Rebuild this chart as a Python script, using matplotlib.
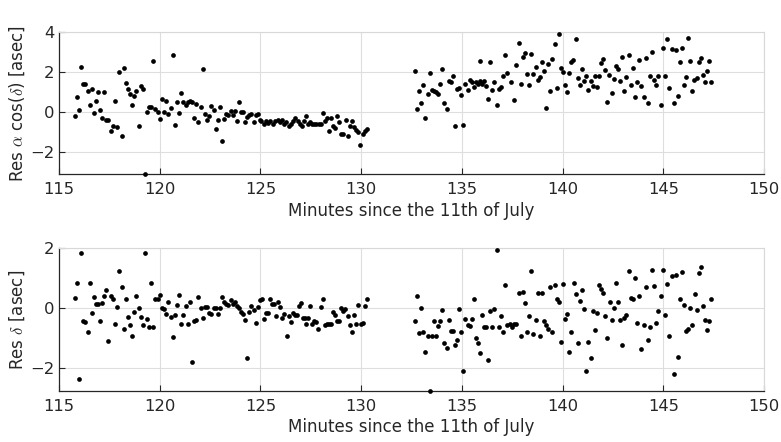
import matplotlib
matplotlib.use("Agg")
import matplotlib.pyplot as plt

plt.rcParams["font.family"] = "DejaVu Sans"
plt.rcParams["mathtext.fontset"] = "cm"

# --- residuals in right ascension (top panel) --------------------------------
t_ra = [115.78, 115.88, 116.0, 116.1, 116.2, 116.3, 116.42, 116.52, 116.62, 116.73,
        116.83, 116.95, 117.05, 117.15, 117.25, 117.35, 117.45, 117.57, 117.68, 117.8,
        117.9, 118.0, 118.12, 118.22, 118.32, 118.42, 118.53, 118.63, 118.73, 118.83,
        118.95, 119.05, 119.17, 119.27, 119.37, 119.48, 119.58, 119.68, 119.78, 119.9,
        120.02, 120.12, 120.23, 120.33, 120.43, 120.55, 120.65, 120.75, 120.87, 120.97,
        121.08, 121.18, 121.28, 121.4, 121.5, 121.6, 121.7, 121.82, 121.92, 122.03,
        122.13, 122.23, 122.35, 122.45, 122.55, 122.67, 122.77, 122.88, 122.98, 123.08,
        123.2, 123.3, 123.4, 123.52, 123.62, 123.72, 123.83, 123.93, 124.03, 124.13,
        124.25, 124.35, 124.45, 124.55, 124.67, 124.77, 124.87, 124.98,
        125.03, 125.16, 125.28, 125.39, 125.49, 125.63, 125.72, 125.86, 125.95, 126.07,
        126.18, 126.28, 126.4, 126.51, 126.61, 126.73, 126.84, 126.94, 127.04, 127.14,
        127.25, 127.37, 127.47, 127.57, 127.66, 127.78, 127.89, 127.99, 128.09, 128.19,
        128.29, 128.39, 128.49, 128.59, 128.7, 128.82, 128.91, 129.01, 129.11, 129.23,
        129.33, 129.44, 129.54, 129.64, 129.75, 129.85, 129.95, 130.08, 130.18, 130.28,
        132.66, 132.76, 132.88, 132.98, 133.08, 133.19, 133.29, 133.4, 133.5, 133.6,
        133.7, 133.82, 133.91, 134.03, 134.13, 134.24, 134.34, 134.44, 134.54, 134.65,
        134.75, 134.85, 134.97, 135.07, 135.16, 135.28, 135.38, 135.48, 135.59, 135.69,
        135.79, 135.89, 135.89, 136.0, 136.1, 136.2, 136.3, 136.41, 136.51, 136.61,
        136.73, 136.83, 136.93, 137.04, 137.14, 137.24, 137.45, 137.58, 137.68, 137.81,
        137.91, 138.01, 138.13, 138.23, 138.34, 138.44, 138.54, 138.66, 138.76, 138.86,
        138.97, 139.07, 139.17, 139.29, 139.39, 139.49, 139.6, 139.7, 139.82, 139.92,
        140.02, 140.12, 140.23, 140.33, 140.43, 140.53, 140.66, 140.76, 140.86, 140.98,
        141.08, 141.18, 141.27, 141.39, 141.49, 141.59, 141.71, 141.8, 141.9, 142.0,
        142.12, 142.22, 142.32, 142.43, 142.53, 142.63, 142.73, 142.85, 142.95, 143.06,
        143.16, 143.28, 143.38, 143.49, 143.59, 143.71, 143.81, 143.91, 144.02, 144.12,
        144.24, 144.34, 144.44, 144.54, 144.65, 144.75, 144.87, 144.97, 145.07, 145.18,
        145.28, 145.4, 145.5, 145.6, 145.7, 145.81, 145.91, 146.01, 146.13, 146.23,
        146.34, 146.44, 146.54, 146.64, 146.75, 146.85, 146.97, 147.07, 147.17, 147.28,
        147.38]
res_ra = [-0.18, 0.73, 0.08, 2.25, 1.42, 1.42, 1.07, 0.35, 1.17, -0.07,
          0.53, 1.02, 0.12, -0.32, 1.02, -0.4, -0.4, -0.93, -0.68, 0.55,
          -0.77, 1.98, -1.22, 2.18, 1.43, 1.15, 0.88, 0.35, 0.78, 1.03,
          -0.7, 1.3, 1.13, -3.1, -0.02, 0.23, 0.23, 2.53, 0.15, 0.02,
          -0.33, 0.67, 0.02, 0.55, -0.08, 0.22, 2.85, -0.63, 0.48, -0.03,
          0.97, 0.5, 0.33, 0.5, 0.57, 0.52, -0.3, 0.4, -0.52, 0.23,
          2.13, -0.08, -0.38, -0.18, 0.32, 0.12, -0.87, -0.42, 0.25, -1.45,
          -0.37, -0.08, -0.13, 0.03, -0.13, 0.07, -0.47, 0.48, -0.02, -0.02,
          -0.48, -0.25, -0.13, -0.08, -0.52, -0.15, -0.12, -0.42,
          -0.47, -0.58, -0.47, -0.55, -0.47, -0.58, -0.45, -0.38, -0.52, -0.42,
          -0.6, -0.52, -0.68, -0.6, -0.45, -0.32, -0.47, -0.58, -0.72, -0.43,
          -0.22, -0.6, -0.52, -0.62, -0.58, -0.62, -0.62, -0.62, -0.05, -0.47,
          -0.3, -0.93, -0.3, -0.72, -0.82, -0.18, -0.52, -1.12, -1.12, -0.42,
          -1.22, -0.72, -0.45, -0.77, -0.88, -1.02, -1.63, -1.12, -0.97, -0.85,
          2.03, 0.15, 1.07, 0.43, 1.33, -0.3, 0.88, 1.93, 1.12, 1.03,
          0.98, 0.88, 1.42, 2.15, 0.47, 0.15, 1.55, 1.48, 1.78, -0.68,
          1.15, 1.22, 0.83, -0.65, 1.42, 1.08, 1.62, 1.5, 1.25, 1.52,
          1.42, 1.53, 2.57, 1.42, 1.53, 1.32, 0.65, 2.48, 1.12, 1.5,
          0.33, 1.15, 1.25, 1.82, 2.85, 1.95, 1.48, 0.62, 2.37, 3.45,
          1.38, 2.73, 2.95, 1.92, 1.35, 2.9, 1.92, 2.25, 1.62, 1.75,
          2.5, 2.03, 0.2, 2.4, 1.05, 2.67, 3.42, 1.2, 3.92, 2.2,
          1.98, 1.37, 0.98, 1.95, 2.52, 2.62, 3.67, 1.72, 1.37, 2.15,
          1.53, 1.78, 1.08, 1.57, 1.28, 1.82, 1.25, 1.82, 2.45, 2.67,
          2.1, 0.48, 1.87, 0.97, 1.65, 2.32, 2.17, 1.57, 2.73, 1.07,
          1.75, 2.87, 1.35, 2.22, 0.75, 1.48, 2.58, 1.32, 0.75, 2.68,
          0.43, 1.82, 3.02, 1.58, 1.37, 1.8, 0.35, 3.18, 1.82, 3.67,
          1.18, 3.15, 0.47, 3.1, 0.82, 2.52, 3.22, 1.33, 1.77, 3.7,
          2.55, 1.05, 1.58, 1.68, 2.5, 2.72, 1.87, 1.52, 2.03, 2.55,
          1.52]

# --- residuals in declination (bottom panel) ---------------------------------
t_dec = [115.78, 115.88, 116.0, 116.1, 116.2, 116.3, 116.42, 116.52, 116.62, 116.73,
         116.83, 116.95, 117.05, 117.15, 117.25, 117.35, 117.45, 117.57, 117.68, 117.8,
         117.9, 118.0, 118.12, 118.22, 118.32, 118.42, 118.53, 118.63, 118.73, 118.83,
         118.95, 119.05, 119.17, 119.27, 119.37, 119.48, 119.58, 119.68, 119.78, 119.9,
         120.02, 120.12, 120.23, 120.33, 120.43, 120.55, 120.65, 120.75, 120.87, 120.97,
         121.08, 121.18, 121.28, 121.4, 121.5, 121.6, 121.7, 121.82, 121.92, 122.03,
         122.13, 122.23, 122.35, 122.45, 122.55, 122.67, 122.77, 122.88, 122.98, 123.08,
         123.2, 123.3, 123.4, 123.52, 123.62, 123.72, 123.83, 123.93, 124.03, 124.13,
         124.25, 124.35, 124.45, 124.55, 124.67, 124.77, 124.87, 124.98,
         125.07, 125.16, 125.26, 125.36, 125.46, 125.56, 125.66, 125.79, 125.89, 125.99,
         126.09, 126.18, 126.32, 126.41, 126.51, 126.61, 126.71, 126.81, 126.91, 127.01,
         127.11, 127.2, 127.27, 127.37, 127.47, 127.57, 127.66, 127.76, 127.88, 127.98,
         128.09, 128.19, 128.29, 128.39, 128.5, 128.6, 128.7, 128.8, 128.9, 129.0,
         129.11, 129.21, 129.33, 129.42, 129.54, 129.64, 129.74, 129.85, 129.97, 130.07,
         130.18, 130.28,
         132.66, 132.76, 132.88, 132.98, 133.08, 133.19, 133.29, 133.4, 133.5, 133.6,
         133.7, 133.82, 133.91, 134.03, 134.13, 134.24, 134.34, 134.44, 134.54, 134.65,
         134.75, 134.87, 134.97, 135.07, 135.16, 135.28, 135.38, 135.48, 135.59, 135.69,
         135.79, 135.89, 136.0, 136.1, 136.2, 136.3, 136.41, 136.51, 136.61, 136.73,
         136.83, 136.92, 137.04, 137.14, 137.24, 137.38, 137.48, 137.58, 137.68, 137.81,
         137.91, 138.01, 138.13, 138.23, 138.34, 138.44, 138.54, 138.66, 138.76, 138.86,
         138.97, 139.07, 139.17, 139.29, 139.39, 139.49, 139.6, 139.7, 139.8, 139.92,
         140.02, 140.13, 140.23, 140.33, 140.43, 140.55, 140.65, 140.76, 140.86, 140.96,
         141.08, 141.18, 141.27, 141.39, 141.49, 141.61, 141.71, 141.8, 141.9, 142.02,
         142.12, 142.22, 142.33, 142.43, 142.53, 142.65, 142.75, 142.85, 142.96, 143.06,
         143.16, 143.28, 143.38, 143.48, 143.59, 143.69, 143.81, 143.91, 144.02, 144.12,
         144.22, 144.34, 144.44, 144.55, 144.65, 144.75, 144.87, 144.97, 145.07, 145.17,
         145.28, 145.4, 145.5, 145.6, 145.7, 145.81, 145.91, 146.03, 146.13, 146.23,
         146.32, 146.44, 146.56, 146.66, 146.75, 146.85, 146.97, 147.07, 147.17, 147.28,
         147.38]
res_dec = [0.33, 0.84, -2.36, 1.82, -0.42, -0.47, -0.8, 0.84, -0.16, 0.38,
           0.13, 0.13, -0.43, 0.16, 0.4, 0.61, -1.09, 0.42, 0.29, -0.54,
           0.03, 1.24, 0.72, -0.69, 0.3, -0.28, -0.56, -0.91, -0.13, 0.39,
           0.02, -0.29, -0.56, 1.82, -0.36, -0.64, 0.84, -0.62, 0.3, 0.3,
           0.44, 0.0, -0.03, -0.19, 0.2, -0.28, -0.97, -0.24, 0.11, 0.44,
           -0.54, -0.22, 0.09, -0.54, 0.2, -1.8, -0.42, -0.39, 0.37, 0.02,
           -0.31, 0.04, 0.04, -0.16, -0.2, 0.02, 0.02, -0.2, 0.02, 0.37,
           0.2, 0.13, 0.11, 0.27, 0.13, 0.2, 0.09, 0.02, -0.11, -0.18,
           -0.39, -1.67, -0.13, 0.07, -0.06, -0.49, 0.04, 0.27,
           0.31, -0.37, -0.16, -0.16, 0.29, 0.13, 0.13, -0.26, 0.22, 0.04,
           -0.31, -0.2, -0.91, -0.27, -0.46, -0.17, -0.22, -0.22, 0.07, 0.18,
           -0.33, -0.33, -0.53, -0.33, 0.09, -0.53, -0.41, -0.47, -0.7, 0.03,
           0.31, -0.56, -0.51, -0.51, -0.51, -0.13, -0.24, -0.44, -0.43, 0.02,
           -0.09, -0.02, -0.27, -0.56, -0.8, -0.22, -0.53, 0.11, -0.53, -0.48,
           0.06, 0.31,
           -0.41, 0.39, -0.82, 0.01, -0.8, -1.47, -0.91, -2.75, -0.91, -0.42,
           -0.91, -0.58, -0.42, -0.06, -1.16, -1.33, -0.39, -0.76, -0.76, -1.21,
           -1.04, -0.04, -0.8, -2.08, -0.36, -0.56, -0.6, -0.36, 0.31, -1.0,
           -1.16, -1.5, -0.24, -0.63, -0.63, -1.71, -0.08, -0.63, -0.04, 1.92,
           -0.62, -0.27, -0.78, 0.78, -0.56, -0.53, -0.64, -0.53, -0.51, 0.49,
           -0.91, 0.53, 0.16, -0.78, -0.27, 1.23, -0.86, -0.38, 0.51, -0.91,
           0.51, -0.42, -0.56, -0.69, 0.69, -0.8, 0.78, 0.31, 0.22, -1.12,
           0.82, -0.36, -0.19, -1.44, -0.8, 0.84, 0.46, -1.17, 0.24, 0.6,
           -0.04, -2.09, -1.11, -1.64, -0.09, -0.73, -0.16, 0.76, 0.64, 0.51,
           -0.27, -0.98, 0.2, -0.38, 0.02, 0.84, 0.2, -0.4, -1.22, -0.33,
           -0.24, 1.24, 0.33, 0.31, 1.0, -0.49, 0.42, -1.36, -0.56, 0.69,
           -1.07, -0.62, 1.27, 0.73, -0.49, -0.1, 0.42, 1.27, -0.24, 0.82,
           -0.93, 1.07, -2.19, 1.09, -1.63, 0.29, 1.2, 0.11, -0.76, -0.69,
           0.02, -0.56, 0.48, -0.07, 1.18, 1.38, 0.08, -0.39, -0.71, -0.41,
           0.31]

x_ticks = [115, 120, 125, 130, 135, 140, 145, 150]
xlabel = "Minutes since the 11th of July"

fig = plt.figure(figsize=(7.81, 4.42), dpi=100)
ax1 = fig.add_axes([0.0755, 0.6063, 0.903, 0.3213])
ax2 = fig.add_axes([0.0755, 0.1154, 0.903, 0.3235])

panels = [(ax1, t_ra, res_ra, (-3.1, 4), [-2, 0, 2, 4],
           r"Res $\alpha$ cos($\delta$) [asec]"),
          (ax2, t_dec, res_dec, (-2.75, 2), [-2, 0, 2],
           r"Res $\delta$ [asec]")]

for a, t, r, ylim, yt, ylab in panels:
    a.plot(t, r, "o", ms=3.4, color="black", mec="none", clip_on=False, zorder=3)
    a.set_xlim(115, 150)
    a.set_ylim(*ylim)
    a.set_xticks(x_ticks)
    a.set_yticks(yt)
    a.grid(True, color="#dedede", lw=0.8)
    a.set_axisbelow(True)
    for s in ["top", "right"]:
        a.spines[s].set_color("#d8d8d8")
        a.spines[s].set_linewidth(0.8)
    for s in ["left", "bottom"]:
        a.spines[s].set_color("#262626")
        a.spines[s].set_linewidth(0.9)
    a.tick_params(direction="in", length=4, width=0.8, colors="#262626",
                  labelsize=11.8, top=False, right=False)
    a.tick_params(axis="x", pad=6)
    a.set_xlabel(xlabel, fontsize=12, color="#262626", labelpad=3)
    a.set_ylabel(ylab, fontsize=12, color="#262626", labelpad=2)

plt.savefig("out.png", dpi=100)
